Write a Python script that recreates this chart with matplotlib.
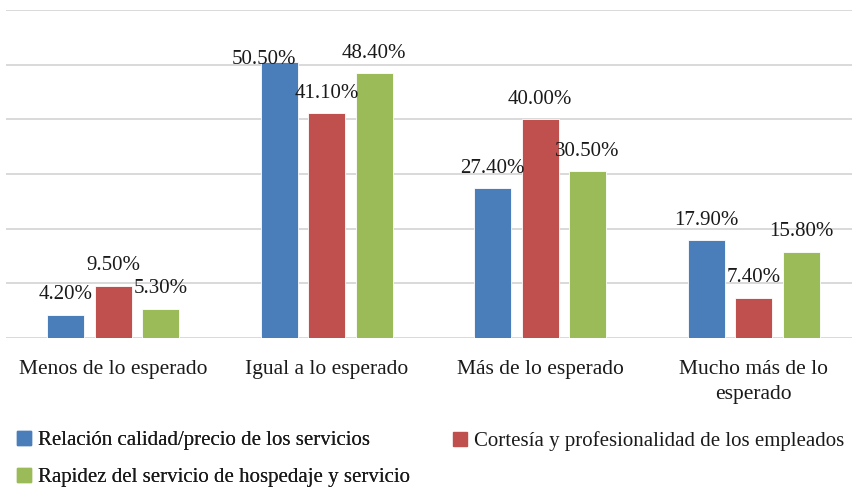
import matplotlib
matplotlib.use("Agg")
import matplotlib.pyplot as plt
import matplotlib.patches as mpatches
import numpy as np

plt.rcParams['font.family'] = ['Liberation Serif', 'DejaVu Serif']

categories = ["Menos de lo esperado", "Igual a lo esperado", "Más de lo esperado", "Mucho más de lo\nesperado"]
series_names = ["Relación calidad/precio de los servicios",
                "Cortesía y profesionalidad de los empleados",
                "Rapidez del servicio de hospedaje y servicio"]
relacion = [4.2, 50.5, 27.4, 17.9]
cortesia = [9.5, 41.1, 40.0, 7.4]
rapidez = [5.3, 48.4, 30.5, 15.8]
series_values = [relacion, cortesia, rapidez]
colors = ["#4A7EBB", "#C0504D", "#9BBB59"]

W, H = 853, 491
fig = plt.figure(figsize=(W / 100, H / 100), dpi=100)
ax = fig.add_axes([6.5 / W, (H - 338) / H, 854 / W, 328 / H])

x = np.arange(len(categories))
step = 0.222
width = 0.173
default_offset = (0, 14.5)
special_offsets = {(0, 1): (-11, 2)}

for si, (vals, col) in enumerate(zip(series_values, colors)):
    xs = x + (si - 1) * step
    ax.bar(xs, vals, width=width, color=col, edgecolor="white", linewidth=0.6, zorder=3)
    for ci, (xx, v) in enumerate(zip(xs, vals)):
        off = special_offsets.get((si, ci), default_offset)
        ax.annotate(f"{v:.2f}%", xy=(xx, v), xytext=off, textcoords="offset points",
                    ha="center", va="center", fontsize=15, color="#1a1a1a", zorder=4)

ax.set_xlim(-0.5, len(categories) - 0.5)
ax.set_ylim(0, 60)
ax.set_yticks(np.arange(0, 61, 10))
ax.set_yticklabels([])
ax.yaxis.grid(True, color="#d9d9d9", linewidth=1.4)
ax.set_axisbelow(True)
ax.tick_params(axis="y", length=0)
ax.set_xticks(x)
ax.set_xticklabels(categories, fontsize=15.5, color="#1a1a1a", linespacing=1.48)
ax.tick_params(axis="x", length=0, pad=15.5)
for s in ax.spines.values():
    s.set_visible(False)

handles = [mpatches.Patch(color=c, label=n) for c, n in zip(colors, series_names)]
leg_kw = dict(frameon=False, fontsize=15, handlelength=0.65, handleheight=0.65,
              handletextpad=0.35, borderpad=0, borderaxespad=0, labelspacing=0.85,
              labelcolor="#1a1a1a")
leg1 = fig.legend(handles=[handles[0], handles[2]], loc="upper left",
                  bbox_to_anchor=(17 / W, 1 - 431 / H), **leg_kw)
fig.add_artist(leg1)
leg2 = fig.legend(handles=[handles[1]], loc="upper left",
                  bbox_to_anchor=(453 / W, 1 - 431 / H), **leg_kw)

fig.savefig("out.png", dpi=100)
